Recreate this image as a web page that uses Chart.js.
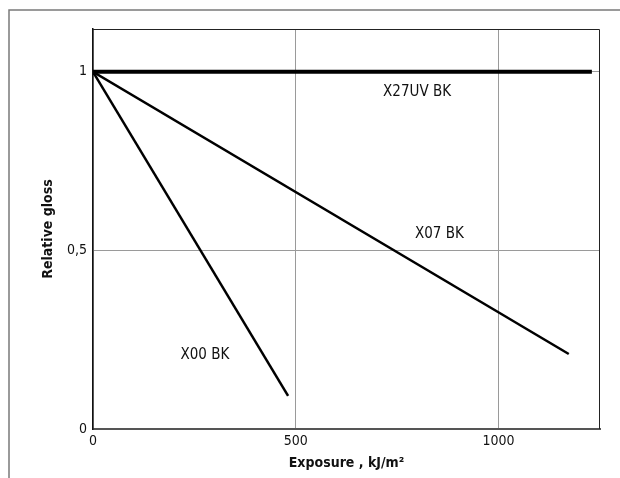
<!DOCTYPE html>
<html>
<head>
<meta charset="utf-8">
<title>Relative gloss vs exposure</title>
<script src="https://cdn.jsdelivr.net/npm/chart.js@4.4.1/dist/chart.umd.min.js"></script>
<style>
  html, body { margin: 0; padding: 0; background: #fff; }
  #wrap { position: relative; width: 620px; height: 478px; }
</style>
</head>
<body>
<div id="wrap"><canvas id="glossChart" width="620" height="478"></canvas></div>
<script>
// Chart data
const seriesNames = ["X27UV BK", "X07 BK", "X00 BK"];
const x27uvExposure = [0, 1230];
const x27uvGloss = [1, 1];
const x07Exposure = [0, 1173];
const x07Gloss = [1, 0.21];
const x00Exposure = [0, 481];
const x00Gloss = [1, 0.093];
const xTickValues = [0, 500, 1000];
const yTickValues = [0, 0.5, 1];

const FONT = "'Liberation Sans Narrow', 'DejaVu Sans Condensed', 'Roboto Condensed', sans-serif";

function toPoints(xs, ys) {
  return xs.map((x, i) => ({ x: x, y: ys[i] }));
}

// Frame, plot border and the series labels
const decorations = {
  id: "decorations",
  beforeDraw(chart) {
    const ctx = chart.ctx;
    ctx.save();
    ctx.fillStyle = "#fff";
    ctx.fillRect(0, 0, chart.width, chart.height);
    ctx.strokeStyle = "#7a7a7a";
    ctx.lineWidth = 1.5;
    ctx.beginPath();
    ctx.moveTo(9, chart.height);
    ctx.lineTo(9, 10);
    ctx.lineTo(chart.width, 10);
    ctx.stroke();
    ctx.restore();
  },
  beforeDatasetsDraw(chart) {
    const { ctx, chartArea } = chart;
    ctx.save();
    ctx.strokeStyle = "#222";
    ctx.lineWidth = 1;
    ctx.beginPath();
    ctx.moveTo(chartArea.left, chartArea.top + 0.5);
    ctx.lineTo(chartArea.right - 0.5, chartArea.top + 0.5);
    ctx.lineTo(chartArea.right - 0.5, chartArea.bottom);
    ctx.stroke();
    ctx.restore();
  },
  afterDatasetsDraw(chart) {
    const { ctx, scales } = chart;
    // label anchors in data coordinates
    const anchors = [[799, 0.943], [854, 0.545], [276, 0.208]];
    ctx.save();
    ctx.fillStyle = "#111";
    ctx.font = "15px " + FONT;
    ctx.textAlign = "center";
    ctx.textBaseline = "middle";
    seriesNames.forEach((name, i) => {
      ctx.fillText(name, scales.x.getPixelForValue(anchors[i][0]), scales.y.getPixelForValue(anchors[i][1]));
    });
    ctx.restore();
  }
};

const ctx = document.getElementById("glossChart").getContext("2d");
new Chart(ctx, {
  type: "line",
  data: {
    datasets: [
      { label: seriesNames[0], data: toPoints(x27uvExposure, x27uvGloss), borderWidth: 4 },
      { label: seriesNames[1], data: toPoints(x07Exposure, x07Gloss), borderWidth: 2.5 },
      { label: seriesNames[2], data: toPoints(x00Exposure, x00Gloss), borderWidth: 2.5 }
    ].map((d) => Object.assign(d, {
      borderColor: "#000",
      pointRadius: 0,
      tension: 0,
      fill: false,
      borderCapStyle: "butt"
    }))
  },
  options: {
    responsive: false,
    animation: false,
    devicePixelRatio: 1,
    layout: { padding: { top: 29, right: 20, left: 0, bottom: 0 } },
    plugins: {
      legend: { display: false },
      tooltip: { enabled: false }
    },
    scales: {
      x: {
        type: "linear",
        min: 0,
        max: 1250,
        afterBuildTicks: (scale) => { scale.ticks = xTickValues.map((v) => ({ value: v })); },
        afterFit: (scale) => { scale.height = 49; },
        grid: { color: "#9a9a9a", lineWidth: 1, drawTicks: false },
        border: { color: "#555", width: 2 },
        ticks: {
          padding: 4,
          color: "#111",
          font: { family: FONT, size: 14 },
          maxRotation: 0,
          callback: (v) => String(v)
        },
        title: {
          display: true,
          text: "Exposure , kJ/m²",
          color: "#111",
          font: { family: FONT, size: 14, weight: "bold" },
          padding: { top: 0, bottom: 6 }
        }
      },
      y: {
        min: 0,
        max: 1.12,
        afterBuildTicks: (scale) => { scale.ticks = yTickValues.map((v) => ({ value: v })); },
        afterFit: (scale) => { scale.width = 93; },
        grid: { color: "#9a9a9a", lineWidth: 1, drawTicks: false },
        border: { color: "#111", width: 1.5 },
        ticks: {
          padding: 6,
          color: "#111",
          font: { family: FONT, size: 14 },
          callback: (v) => String(v).replace(".", ",")
        },
        title: {
          display: true,
          text: "Relative gloss",
          color: "#111",
          font: { family: FONT, size: 14, weight: "bold" },
          padding: { top: 40, bottom: 0 }
        }
      }
    }
  },
  plugins: [decorations]
});
</script>
</body>
</html>
